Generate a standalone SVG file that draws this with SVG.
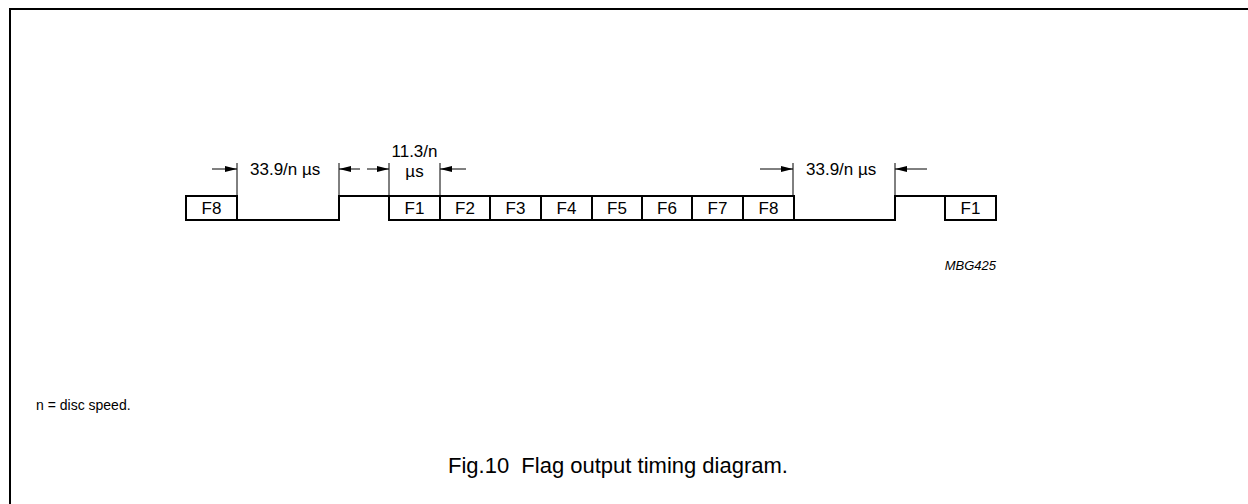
<svg xmlns="http://www.w3.org/2000/svg" width="1248" height="504" viewBox="0 0 1248 504">
<defs>
<marker id="ah" viewBox="0 0 12 6" refX="12" refY="3" markerWidth="12" markerHeight="6" markerUnits="userSpaceOnUse" orient="auto">
<path d="M0,0 L12,3 L0,6 Z" fill="#000"/>
</marker>
<style>
text{font-family:"Liberation Sans",Arial,sans-serif;fill:#000}
.lbl{font-size:17px;text-anchor:middle}
.dim{font-size:17px}
.sig{fill:none;stroke:#000;stroke-width:2}
.ext{stroke:#000;stroke-width:1;fill:none}
.arr{stroke:#000;stroke-width:1;fill:none;marker-end:url(#ah)}
</style>
</defs>
<rect width="1248" height="504" fill="#fff"/>
<path d="M10,504 V9 H1248" fill="none" stroke="#000" stroke-width="2"/>
<g id="signal">
<path class="sig" d="M186,196 H237 V220 H186 Z"/>
<path class="sig" d="M237,220 H339 V196 H389"/>
<path class="sig" d="M389,196 H794 V220 H389 Z"/>
<path class="sig" d="M440,196 V220 M490,196 V220 M541,196 V220 M592,196 V220 M642,196 V220 M692,196 V220 M743,196 V220"/>
<path class="sig" d="M794,220 H895 V196 H945"/>
<path class="sig" d="M945,196 H996 V220 H945 Z"/>
</g>
<g id="labels">
<text class="lbl" x="211.5" y="214">F8</text>
<text class="lbl" x="414.5" y="214">F1</text>
<text class="lbl" x="465" y="214">F2</text>
<text class="lbl" x="515.5" y="214">F3</text>
<text class="lbl" x="566.5" y="214">F4</text>
<text class="lbl" x="617" y="214">F5</text>
<text class="lbl" x="667" y="214">F6</text>
<text class="lbl" x="717.5" y="214">F7</text>
<text class="lbl" x="768.5" y="214">F8</text>
<text class="lbl" x="970.5" y="214">F1</text>
</g>
<g id="connectors">
<path class="ext" d="M237,163 V196 M339,163 V196 M389,163 V196 M440,163 V196 M793,163 V196 M895,163 V196"/>
<path class="arr" d="M212,169 H237"/>
<path class="arr" d="M360,169 H339"/>
<path class="arr" d="M367,169 H389"/>
<path class="arr" d="M466,169 H440"/>
<path class="arr" d="M760,169 H793"/>
<path class="arr" d="M927,169 H895"/>
</g>
<g id="dims">
<text class="dim" x="250" y="175">33.9/n µs</text>
<text class="dim" x="806" y="175">33.9/n µs</text>
<text class="dim" x="414.5" y="157" text-anchor="middle">11.3/n</text>
<text class="dim" x="414.5" y="177" text-anchor="middle">µs</text>
</g>
<text x="996" y="270" font-size="13" font-style="italic" text-anchor="end">MBG425</text>
<text x="36" y="410" font-size="14">n = disc speed.</text>
<text x="448" y="473" font-size="22" xml:space="preserve">Fig.10  Flag output timing diagram.</text>
</svg>
